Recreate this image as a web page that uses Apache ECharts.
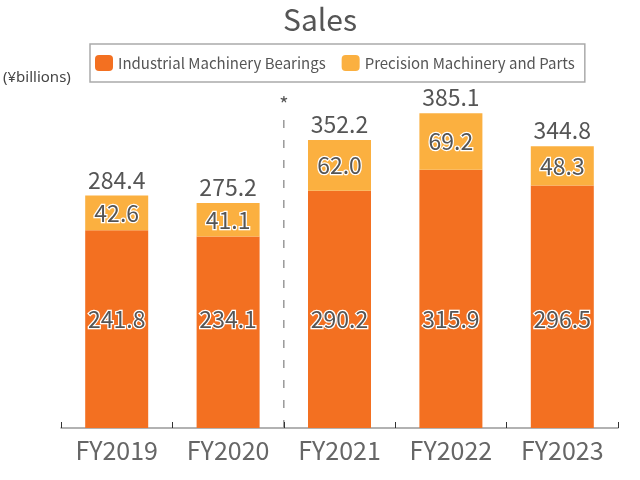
<!DOCTYPE html>
<html><head><meta charset="utf-8">
<script src="https://cdn.jsdelivr.net/npm/echarts@6/dist/echarts.min.js"></script>
<style>html,body{margin:0;padding:0;background:#fff}#c{width:640px;height:480px}</style>
</head><body><div id="c"></div>
<script>
const categories = ['FY2019','FY2020','FY2021','FY2022','FY2023'];
const industrial = [241.8, 234.1, 290.2, 315.9, 296.5];
const precision = [42.6, 41.1, 62.0, 69.2, 48.3];
const totals = [284.4, 275.2, 352.2, 385.1, 344.8];
const seriesNames = ['Industrial Machinery Bearings', 'Precision Machinery and Parts'];
const FONT = '"Noto Sans CJK JP", "Noto Sans", sans-serif';
const chart = echarts.init(document.getElementById('c'));
const inner = {show:true, color:'#555', fontFamily:FONT, fontSize:23, textBorderColor:'#fff', textBorderWidth:2.5, formatter:p=>p.value.toFixed(1)};
const unitText = {type:'text', left:3, top:70, style:{text:'(¥billions)', font:'15px "Noto Sans", sans-serif', fill:'#444'}};
chart.setOption({
  animation:false,
  title:{text:'Sales', left:'center', top:0, textStyle:{fontFamily:FONT, fontSize:30, fontWeight:'normal', color:'#555'}},
  legend:{data:seriesNames, left:90, top:44, width:520, itemWidth:18, itemHeight:16, itemGap:16,
    padding:[11,10,11,5], borderColor:'#aaa', borderWidth:1.5,
    textStyle:{fontFamily:FONT, fontSize:15, color:'#555'}},
  graphic:[unitText],
  grid:{left:61, right:22, top:101, bottom:52},
  xAxis:{type:'category', data:categories,
    axisLine:{lineStyle:{color:'#999', width:1.5}},
    axisTick:{show:true, inside:true, length:6, lineStyle:{color:'#333'}},
    axisLabel:{interval:0, fontFamily:FONT, fontSize:25, color:'#666', margin:10}},
  yAxis:{type:'value', min:0, max:400, show:false, splitLine:{show:false}},
  series:[
    {name:seriesNames[0], type:'bar', stack:'s', data:industrial, barWidth:63,
     itemStyle:{color:'#F37021'}, label:Object.assign({position:'insideBottom', distance:97}, inner)},
    {name:seriesNames[1], type:'bar', stack:'s', data:precision, barWidth:63,
     itemStyle:{color:'#FBB040'}, label:Object.assign({position:'inside'}, inner)},
    {name:'total', type:'bar', data:totals, barWidth:63, barGap:'-100%',
     itemStyle:{color:'rgba(0,0,0,0)'}, silent:true,
     label:{show:true, position:'top', distance:4, color:'#555', fontFamily:FONT, fontSize:23, formatter:p=>p.value.toFixed(1)}}
  ]
});
const x1 = chart.convertToPixel({xAxisIndex:0}, categories[1]);
const x2 = chart.convertToPixel({xAxisIndex:0}, categories[2]);
const xm = (x1 + x2) / 2;
const yb = chart.convertToPixel({yAxisIndex:0}, 0);
chart.setOption({graphic:[
  unitText,
  {type:'line', shape:{x1:xm, y1:120, x2:xm, y2:yb}, style:{stroke:'#999', lineWidth:1.5, lineDash:[8,12]}},
  {type:'text', x:xm, y:104, style:{text:'*', font:'20px ' + FONT, fill:'#555', align:'center', verticalAlign:'middle'}}
]});
</script></body></html>
